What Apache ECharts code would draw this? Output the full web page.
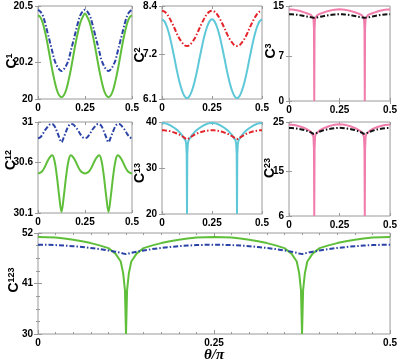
<!DOCTYPE html>
<html><head><meta charset="utf-8">
<script src="https://cdn.jsdelivr.net/npm/echarts@6/dist/echarts.min.js"></script>
<style>html,body{margin:0;padding:0;background:#fff}#c{width:400px;height:364px}</style>
</head><body><div id="c"></div>
<script>
// theta/pi grids
const thetaSmooth = [0,0.0125,0.025,0.0375,0.05,0.0625,0.075,0.0875,0.1,0.1125,0.125,0.1375,0.15,0.1625,0.175,0.1875,0.2,0.2125,0.225,0.2375,0.25,0.2625,0.275,0.2875,0.3,0.3125,0.325,0.3375,0.35,0.3625,0.375,0.3875,0.4,0.4125,0.425,0.4375,0.45,0.4625,0.475,0.4875,0.5];
const thetaCusp = [0,0.0125,0.025,0.0375,0.05,0.0625,0.075,0.0875,0.1,0.11,0.1175,0.121,0.1235,0.125,
  0.1265,0.129,0.1325,0.14,0.15,0.1625,0.175,0.1875,0.2,0.2125,0.225,0.2375,0.25,
  0.2625,0.275,0.2875,0.3,0.3125,0.325,0.3375,0.35,0.36,0.3675,0.371,0.3735,0.375,
  0.3765,0.379,0.3825,0.39,0.4,0.4125,0.425,0.4375,0.45,0.4625,0.475,0.4875,0.5];

const c1Green = [20.45,20.44,20.41,20.36,20.30,20.23,20.16,20.10,20.05,20.02,20.01, 20.02,20.05,20.10,20.16,20.23,20.30,20.36,20.41,20.44,20.46, 20.44,20.41,20.36,20.30,20.23,20.16,20.10,20.05,20.02,20.01, 20.02,20.05,20.10,20.16,20.23,20.30,20.36,20.41,20.44,20.45];
const c1Blue = [20.48,20.47,20.45,20.41,20.36,20.31,20.26,20.21,20.18,20.16,20.15, 20.16,20.18,20.21,20.26,20.31,20.36,20.41,20.45,20.47,20.48, 20.47,20.45,20.41,20.36,20.31,20.26,20.21,20.18,20.16,20.15, 20.16,20.18,20.21,20.26,20.31,20.36,20.41,20.45,20.47,20.48];
const c2Red = [8.28,8.26,8.20,8.10,7.98,7.85,7.71,7.59,7.50,7.43,7.41, 7.43,7.50,7.59,7.71,7.85,7.98,8.10,8.20,8.26,8.28, 8.26,8.20,8.10,7.98,7.85,7.71,7.59,7.50,7.43,7.41, 7.43,7.50,7.59,7.71,7.85,7.98,8.10,8.20,8.26,8.28];
const c2Cyan = [8.07,8.02,7.88,7.67,7.40,7.10,6.79,6.52,6.31,6.17,6.12, 6.17,6.31,6.52,6.79,7.10,7.40,7.67,7.88,8.02,8.07, 8.02,7.88,7.67,7.40,7.10,6.79,6.52,6.31,6.17,6.12, 6.17,6.31,6.52,6.79,7.10,7.40,7.67,7.88,8.02,8.07];
const c12Blue = [30.84,30.85,30.88,30.92,30.95,30.975,30.98,30.96,30.91,30.85,30.80, 30.85,30.91,30.96,30.98,30.975,30.95,30.92,30.88,30.85,30.84, 30.85,30.88,30.92,30.95,30.975,30.98,30.96,30.91,30.85,30.80, 30.85,30.91,30.96,30.98,30.975,30.95,30.92,30.88,30.85,30.84];
const c12Green = [30.49,30.50,30.52,30.56,30.61,30.65,30.67,30.62,30.47,30.27,30.11, 30.27,30.47,30.62,30.67,30.65,30.61,30.56,30.52,30.50,30.49, 30.50,30.52,30.56,30.61,30.65,30.67,30.62,30.47,30.27,30.11, 30.27,30.47,30.62,30.67,30.65,30.61,30.56,30.52,30.50,30.49];

const c3Pink = [14.45,14.44,14.40,14.33,14.24,14.13,14.00,13.86,13.71,13.55,13.3,13.0,11.5,0,
  11.5,13.0,13.3,13.57,13.73,13.88,14.02,14.15,14.26,14.35,14.42,14.46,14.48,
  14.46,14.42,14.35,14.26,14.15,14.02,13.88,13.73,13.57,13.3,13.0,11.5,0,
  11.5,13.0,13.3,13.55,13.71,13.86,14.00,14.13,14.24,14.33,14.40,14.44,14.45];
const c3Black = [13.70,13.69,13.66,13.62,13.57,13.50,13.43,13.35,13.27,13.21,13.17,13.15,13.14,13.13,
  13.14,13.15,13.17,13.21,13.27,13.35,13.43,13.50,13.57,13.62,13.66,13.69,13.71,
  13.69,13.66,13.62,13.57,13.50,13.43,13.35,13.27,13.21,13.17,13.15,13.14,13.13,
  13.14,13.15,13.17,13.21,13.27,13.35,13.43,13.50,13.57,13.62,13.66,13.69,13.70];
const c13Cyan = [39.8,39.75,39.6,39.35,39.05,38.7,38.3,37.8,37.15,36.5,36.0,35.2,33.0,20.0,
  33.0,35.2,36.0,36.5,37.15,37.8,38.3,38.7,39.05,39.35,39.6,39.75,39.85,
  39.75,39.6,39.35,39.05,38.7,38.3,37.8,37.15,36.5,36.0,35.2,33.0,20.0,
  33.0,35.2,36.0,36.5,37.15,37.8,38.3,38.7,39.05,39.35,39.6,39.75,39.8];
const c13Red = [38.2,38.18,38.12,38.02,37.88,37.7,37.5,37.25,36.95,36.62,36.4,36.28,36.22,36.2,
  36.22,36.28,36.4,36.62,36.95,37.25,37.5,37.7,37.88,38.02,38.12,38.18,38.2,
  38.18,38.12,38.02,37.88,37.7,37.5,37.25,36.95,36.62,36.4,36.28,36.22,36.2,
  36.22,36.28,36.4,36.62,36.95,37.25,37.5,37.7,37.88,38.02,38.12,38.18,38.2];
const c23Pink = [24.45,24.43,24.38,24.28,24.15,23.98,23.78,23.55,23.25,22.95,22.6,22.0,19.5,6.0,
  19.5,22.0,22.6,22.95,23.25,23.55,23.8,24.0,24.18,24.32,24.43,24.5,24.55,
  24.5,24.43,24.32,24.18,24.0,23.8,23.55,23.25,22.95,22.6,22.0,19.5,6.0,
  19.5,22.0,22.6,22.95,23.25,23.55,23.78,23.98,24.15,24.28,24.38,24.43,24.45];
const c23Black = [23.8,23.79,23.75,23.68,23.6,23.5,23.38,23.22,23.02,22.85,22.7,22.62,22.58,22.55,
  22.58,22.62,22.7,22.85,23.02,23.22,23.38,23.5,23.6,23.68,23.75,23.79,23.82,
  23.79,23.75,23.68,23.6,23.5,23.38,23.22,23.02,22.85,22.7,22.62,22.58,22.55,
  22.58,22.62,22.7,22.85,23.02,23.22,23.38,23.5,23.6,23.68,23.75,23.79,23.8];
const c123Green = [51.13,51.1,51.0,50.8,50.55,50.2,49.8,49.3,48.7,47.5,45.8,43.2,39.5,30,
  39.5,43.2,45.8,47.5,48.7,49.3,49.8,50.2,50.55,50.8,51.0,51.1,51.13,
  51.1,51.0,50.8,50.55,50.2,49.8,49.3,48.7,47.5,45.8,43.2,39.5,30,
  39.5,43.2,45.8,47.5,48.7,49.3,49.8,50.2,50.55,50.8,51.0,51.1,51.13];
const c123Blue = [49.45,49.43,49.37,49.27,49.13,48.95,48.74,48.5,48.2,47.93,47.7,47.55,47.45,47.4,
  47.45,47.55,47.7,47.93,48.2,48.5,48.74,48.95,49.13,49.27,49.37,49.43,49.45,
  49.43,49.37,49.27,49.13,48.95,48.74,48.5,48.2,47.93,47.7,47.55,47.45,47.4,
  47.45,47.55,47.7,47.93,48.2,48.5,48.74,48.95,49.13,49.27,49.37,49.43,49.45];

const yTicks1 = [20, 20.2, 20.5];
const yTicks2 = [6.1, 7.2, 8.4];
const yTicks3 = [0, 7, 15];
const yTicks12 = [30.1, 30.6, 31];
const yTicks13 = [20, 30, 40];
const yTicks23 = [6, 15, 25];
const yTicks123 = [30, 41, 52];
const xTicks = [0, 0.25, 0.5];
const subs = ['1','2','3','12','13','23','123'];

const COL = {green:'#5fbf3a', blue:'#2b43a6', red:'#e3242b', cyan:'#5ec8d8', pink:'#f07dab', black:'#111111'};
const DASHDOT = [5, 2, 1.5, 2];
const FONT = 'Liberation Sans, Arial, sans-serif';
const AXC = '#9a9a9a';

const panels = [
  {g:{left:38,top:6,width:94,height:93}, yt:yTicks1, th:thetaSmooth, smooth:true, s:[[c1Green,'green',0],[c1Blue,'blue',1]], name:[12,61]},
  {g:{left:162,top:6,width:100,height:93}, yt:yTicks2, th:thetaSmooth, smooth:true, s:[[c2Cyan,'cyan',0],[c2Red,'red',1]], name:[140,55]},
  {g:{left:289,top:6,width:103,height:95}, yt:yTicks3, th:thetaCusp, smooth:false, s:[[c3Pink,'pink',0],[c3Black,'black',1]], name:[271,51]},
  {g:{left:38,top:122,width:94,height:91}, yt:yTicks12, th:thetaSmooth, smooth:true, s:[[c12Green,'green',0],[c12Blue,'blue',1]], name:[11,160]},
  {g:{left:162,top:122,width:100,height:92}, yt:yTicks13, th:thetaCusp, smooth:false, s:[[c13Cyan,'cyan',0],[c13Red,'red',1]], name:[140,173]},
  {g:{left:289,top:122,width:103,height:94}, yt:yTicks23, th:thetaCusp, smooth:false, s:[[c23Pink,'pink',0],[c23Black,'black',1]], name:[270,168]},
  {g:{left:38,top:233,width:353,height:101}, yt:yTicks123, th:thetaCusp, smooth:false, s:[[c123Green,'green',0],[c123Blue,'blue',1]], name:[14,280], big:true}
];

const grid=[], xAxis=[], yAxis=[], series=[], graphic=[];
const lblStyle = {color:'#000', fontSize:10, fontWeight:'bold', fontFamily:FONT};
panels.forEach((p,i)=>{
  grid.push(Object.assign({show:true, borderColor:AXC, borderWidth:1, containLabel:false}, p.g));
  const xt = {show:true, inside:true, length: p.big?4:3, lineStyle:{color:AXC}};
  const xmt = {show: !!p.big, splitNumber:10, length:2, lineStyle:{color:AXC}};
  xAxis.push({gridIndex:i, type:'value', min:xTicks[0], max:xTicks[2], interval:0.25, position:'bottom',
    axisLine:{show:false}, axisTick:xt, minorTick:xmt, splitLine:{show:false},
    axisLabel:Object.assign({margin:4, showMinLabel:true, showMaxLabel:true}, lblStyle)});
  xAxis.push({gridIndex:i, type:'value', min:xTicks[0], max:xTicks[2], interval:0.25, position:'top',
    axisLine:{show:false}, axisTick:xt, minorTick:xmt, splitLine:{show:false}, axisLabel:{show:false}});
  const yb = {gridIndex:i, type:'value', min:p.yt[0], max:p.yt[2], axisLine:{show:false}, splitLine:{show:false}};
  if (p.big) {
    yb.interval = 11;
    yb.minorTick = {show:true, splitNumber:4, length:2, lineStyle:{color:AXC}};
    yb.axisTick = {show:true, inside:true, length:4, lineStyle:{color:AXC}};
    yb.axisLabel = Object.assign({margin:5}, lblStyle);
  } else {
    yb.axisTick = {show:true, inside:true, length:3, customValues:p.yt, lineStyle:{color:AXC}};
    yb.axisLabel = Object.assign({margin:5, customValues:p.yt}, lblStyle);
  }
  yAxis.push(Object.assign({position:'left'}, yb));
  yAxis.push(Object.assign({}, yb, {position:'right', axisLabel:{show:false}}));
  p.s.forEach(([vals,col,dash])=>{
    series.push({type:'line', xAxisIndex:2*i, yAxisIndex:2*i, showSymbol:false, smooth:p.smooth?0.35:false,
      data:p.th.map((t,k)=>[t, vals[k]]), animation:false,
      lineStyle:{color:COL[col], width:2, type: dash?DASHDOT:'solid'}});
  });
  graphic.push({type:'text', x:p.name[0], y:p.name[1], rotation:Math.PI/2, z:10,
    style:{text:'{c|C}{s|'+subs[i]+'}', align:'center', verticalAlign:'middle',
      rich:{c:{fontSize:14, fontWeight:'bold', fontFamily:FONT, fill:'#000', lineHeight:14},
            s:{fontSize:9, fontWeight:'bold', fontFamily:FONT, fill:'#000', lineHeight:9, verticalAlign:'top'}}}});
});
graphic.push({type:'text', x:214, y:355, z:10, style:{text:'\u03b8/\u03c0', align:'center', verticalAlign:'middle',
  font:'italic bold 15px "Liberation Serif", "DejaVu Serif", serif', fill:'#000'}});

const chart = echarts.init(document.getElementById('c'), null, {renderer:'canvas'});
chart.setOption({animation:false, grid, xAxis, yAxis, series, graphic});
</script></body></html>
